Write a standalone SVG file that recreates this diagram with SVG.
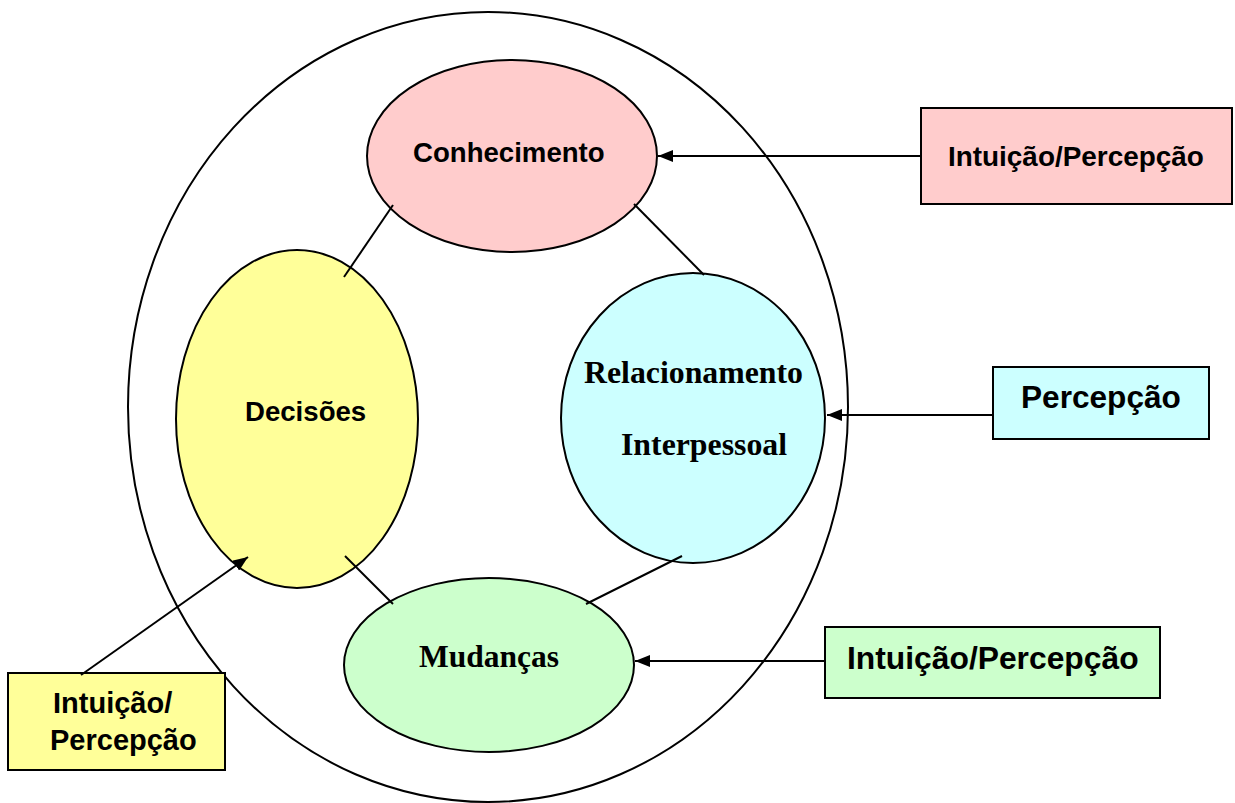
<svg xmlns="http://www.w3.org/2000/svg" width="1235" height="803" viewBox="0 0 1235 803">
<defs>
<marker id="ah" markerWidth="15" markerHeight="12" refX="15" refY="6" orient="auto" markerUnits="userSpaceOnUse"><path d="M0,0 L15,6 L0,12 Z" fill="#000"/></marker>
<style>
.sh{stroke:#000;stroke-width:2}
.ln{stroke:#000;stroke-width:2;fill:none}
.a{font-family:"Liberation Sans",Arial,sans-serif;font-weight:bold;fill:#000}
.t{font-family:"Liberation Serif","Times New Roman",serif;font-weight:bold;fill:#000}
</style>
</defs>
<rect width="1235" height="803" fill="#fff"/>
<g id="outer"><ellipse cx="488" cy="407" rx="360" ry="395" fill="none" class="sh"/></g>
<g id="conhecimento"><ellipse cx="512" cy="156" rx="145" ry="96" fill="#FFCCCC" class="sh"/><text class="a" x="413" y="162" font-size="27.6">Conhecimento</text></g>
<g id="decisoes"><ellipse cx="297" cy="419" rx="121" ry="169" fill="#FFFF99" class="sh"/><text class="a" x="245" y="421" font-size="27.6">Decisões</text></g>
<g id="relacionamento"><ellipse cx="693" cy="418" rx="132" ry="145" fill="#CCFFFF" class="sh"/><text class="t" x="584" y="383" font-size="31.8">Relacionamento</text><text class="t" x="621" y="455" font-size="31.8">Interpessoal</text></g>
<g id="mudancas"><ellipse cx="489" cy="665" rx="145" ry="87" fill="#CCFFCC" class="sh"/><text class="t" x="419" y="667" font-size="31.5">Mudanças</text></g>
<g id="box-pink"><rect x="921" y="108" width="311" height="96" fill="#FFCCCC" class="sh"/><text class="a" x="948" y="166" font-size="27.9">Intuição/Percepção</text></g>
<g id="box-cyan"><rect x="993" y="367" width="216" height="72" fill="#CCFFFF" class="sh"/><text class="a" x="1021" y="408" font-size="31.6">Percepção</text></g>
<g id="box-green"><rect x="825" y="627" width="335" height="71" fill="#CCFFCC" class="sh"/><text class="a" x="847" y="669" font-size="31.8">Intuição/Percepção</text></g>
<g id="box-yellow"><rect x="8" y="673" width="217" height="97" fill="#FFFF99" class="sh"/><text class="a" x="53" y="713" font-size="29">Intuição/</text><text class="a" x="50" y="750" font-size="29">Percepção</text></g>
<g id="connectors">
<line class="ln" x1="393" y1="205" x2="344" y2="277"/>
<line class="ln" x1="634" y1="204" x2="704" y2="275"/>
<line class="ln" x1="345" y1="556" x2="393" y2="604"/>
<line class="ln" x1="682" y1="556" x2="586" y2="604"/>
<line class="ln" x1="921" y1="156" x2="658" y2="156" marker-end="url(#ah)"/>
<line class="ln" x1="993" y1="415" x2="827" y2="415" marker-end="url(#ah)"/>
<line class="ln" x1="825" y1="661" x2="635" y2="661" marker-end="url(#ah)"/>
<line class="ln" x1="81" y1="675" x2="248" y2="557" marker-end="url(#ah)"/>
</g>
</svg>
